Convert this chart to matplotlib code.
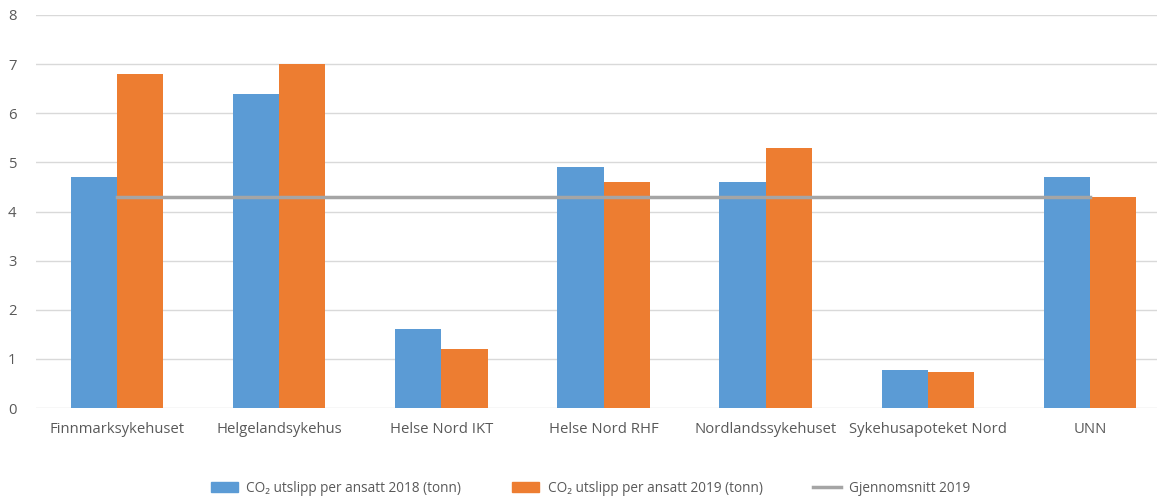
import matplotlib
matplotlib.use("Agg")
import matplotlib.pyplot as plt
import numpy as np
from matplotlib.patches import Patch
from matplotlib.lines import Line2D

plt.rcParams['font.family'] = ['Open Sans', 'DejaVu Sans']

categories = ["Finnmarksykehuset", "Helgelandsykehus", "Helse Nord IKT", "Helse Nord RHF",
              "Nordlandssykehuset", "Sykehusapoteket Nord", "UNN"]
values_2018 = [4.7, 6.4, 1.6, 4.9, 4.6, 0.78, 4.7]
values_2019 = [6.8, 7.0, 1.2, 4.6, 5.3, 0.74, 4.3]
average_2019 = 4.3
yticks = [0, 1, 2, 3, 4, 5, 6, 7, 8]

label_2018 = "CO₂ utslipp per ansatt 2018 (tonn)"
label_2019 = "CO₂ utslipp per ansatt 2019 (tonn)"
label_avg = "Gjennomsnitt 2019"

blue = "#5B9BD5"
orange = "#ED7D31"
gray = "#A5A5A5"
text_color = "#595959"

W, H = 1157, 496
fig = plt.figure(figsize=(W/100, H/100), dpi=100)
ax = fig.add_axes([36/W, 1 - 408/H, 1135/W, (408-15)/H])

x = np.arange(len(categories))
w = 0.285
ax.bar(x - w/2, values_2018, width=w, color=blue, zorder=2)
ax.bar(x + w/2, values_2019, width=w, color=orange, zorder=2)
ax.plot([x[0], x[-1]], [average_2019, average_2019], color=gray, linewidth=2.5, zorder=3)

ax.set_xlim(-0.5, len(categories) - 0.5)
ax.set_ylim(0, 8)
ax.set_yticks(yticks)
ax.yaxis.grid(True, color="#D9D9D9", linewidth=1, zorder=0)
ax.set_axisbelow(True)
for s in ax.spines.values():
    s.set_visible(False)
ax.tick_params(axis='both', length=0, colors=text_color, labelsize=10.7)
ax.tick_params(axis='y', pad=14)
ax.tick_params(axis='x', pad=10)
ax.set_xticks(x)
ax.set_xticklabels(categories)

handles = [Patch(color=blue, label=label_2018),
           Patch(color=orange, label=label_2019),
           Line2D([0], [0], color=gray, linewidth=2.5, label=label_avg)]
leg = fig.legend(handles=handles, loc='center', bbox_to_anchor=(590.5/W, 1 - 488/H), ncol=3,
                 frameon=False, fontsize=9.85, columnspacing=3.7, handlelength=2.0,
                 handletextpad=0.6, handleheight=0.75)
for t in leg.get_texts():
    t.set_color(text_color)

fig.savefig("out.png", dpi=100)
